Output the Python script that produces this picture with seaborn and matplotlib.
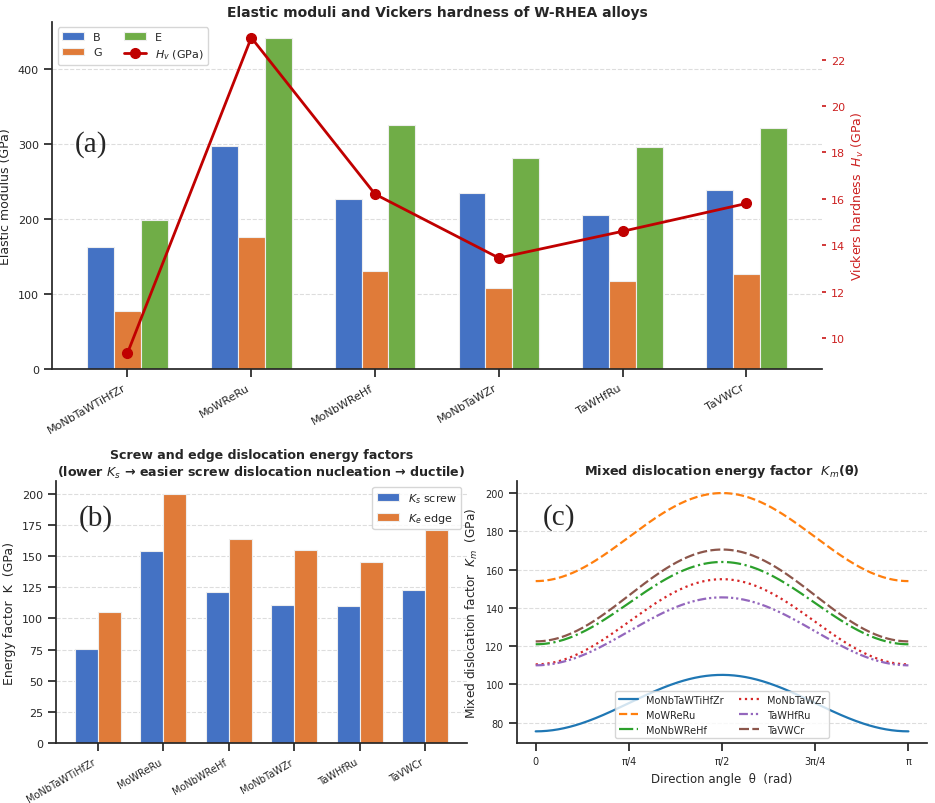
import numpy as np
import pandas as pd
import matplotlib
matplotlib.use("Agg")
import matplotlib.pyplot as plt
import seaborn as sns

# ---------------- data ----------------
alloys = ["MoNbTaWTiHfZr", "MoWReRu", "MoNbWReHf", "MoNbTaWZr", "TaWHfRu", "TaVWCr"]
B_mod = [162, 297, 226, 234, 205, 239]
G_mod = [77, 176, 130, 108, 117, 126]
E_mod = [199, 441, 326, 282, 296, 322]
Hv = [9.35, 22.95, 16.2, 13.45, 14.6, 15.8]
Ks = [75.5, 154, 121, 110.5, 110, 122.5]
Ke = [105, 200, 164, 155, 145.5, 170.5]
theta_ticks = [0, np.pi / 4, np.pi / 2, 3 * np.pi / 4, np.pi]
theta_labels = ["0", "π/4", "π/2", "3π/4", "π"]

# ---------------- style ----------------
sns.set_theme(style="ticks", rc={
    "xtick.labelsize": 8, "ytick.labelsize": 8,
    "axes.labelsize": 9, "legend.fontsize": 8,
    "axes.titlesize": 10,
})
plt.rcParams["font.family"] = ["DejaVu Sans"]

c_blue, c_orange, c_green = "#4472C4", "#E07B39", "#70AD47"
c_red = "#C00000"
grid_kw = dict(linestyle="--", color="#dddddd", linewidth=0.8)

fig = plt.figure(figsize=(9.35, 8.04), dpi=100)

# ---------------- (a) ----------------
ax_a = fig.add_axes([0.0556, 0.540, 0.8235, 0.4316])
df_a = pd.DataFrame({
    "alloy": alloys * 3,
    "modulus": ["B"] * 6 + ["G"] * 6 + ["E"] * 6,
    "value": B_mod + G_mod + E_mod,
})
sns.barplot(data=df_a, x="alloy", y="value", hue="modulus",
            palette=[c_blue, c_orange, c_green], saturation=1,
            width=0.65, edgecolor="#eeeeee", linewidth=0.8,
            errorbar=None, ax=ax_a)
leg = ax_a.get_legend()
bar_handles = list(leg.legend_handles)
bar_labels = [t.get_text() for t in leg.texts]
leg.remove()

ax_a.set_xlabel("")
ax_a.set_ylabel("Elastic modulus (GPa)")
ax_a.yaxis.grid(True, **grid_kw)
ax_a.set_axisbelow(True)
sns.despine(ax=ax_a)
ax_a.tick_params(axis="x", rotation=30)
for lbl in ax_a.get_xticklabels():
    lbl.set_ha("right")
ax_a.text(0.03, 0.65, "(a)", transform=ax_a.transAxes, fontsize=21,
          family="Liberation Serif", va="center")
ax_a.set_title("Elastic moduli and Vickers hardness of W-RHEA alloys",
               fontweight="bold", pad=4)

ax2 = ax_a.twinx()
line, = ax2.plot(range(len(alloys)), Hv, color=c_red, marker="o", lw=2,
                 ms=7, label="$H_v$ (GPa)")
for s in ax2.spines.values():
    s.set_visible(False)
ax2.tick_params(axis="y", colors="#cc2020", labelsize=8, length=3)
ax2.set_ylabel("Vickers hardness  $H_v$ (GPa)", color="#cc2020", labelpad=3)
ax2.legend(bar_handles + [line], bar_labels + ["$H_v$ (GPa)"],
           loc="upper left", ncol=2, fontsize=8)
ax_a.set_xlim(-0.61, 5.61)

# ---------------- (b) ----------------
ax_b = fig.add_axes([0.0599, 0.0743, 0.4396, 0.326])
df_b = pd.DataFrame({
    "alloy": alloys * 2,
    "kind": ["$K_s$ screw"] * 6 + ["$K_e$ edge"] * 6,
    "value": Ks + Ke,
})
sns.barplot(data=df_b, x="alloy", y="value", hue="kind",
            palette=[c_blue, c_orange], saturation=1, width=0.7,
            edgecolor="#eeeeee", linewidth=0.8, errorbar=None, ax=ax_b)
ax_b.legend(loc="upper right", fontsize=8)
ax_b.set_xlabel("")
ax_b.set_ylabel("Energy factor  K  (GPa)")
ax_b.yaxis.grid(True, **grid_kw)
ax_b.set_axisbelow(True)
sns.despine(ax=ax_b)
ax_b.tick_params(axis="x", rotation=30, labelsize=7)
for lbl in ax_b.get_xticklabels():
    lbl.set_ha("right")
ax_b.set_xlim(-0.635, 5.635)
ax_b.text(0.056, 0.86, "(b)", transform=ax_b.transAxes, fontsize=21,
          family="Liberation Serif", va="center")
ax_b.set_title("Screw and edge dislocation energy factors\n"
               "(lower $K_s$ → easier screw dislocation nucleation → ductile)",
               fontweight="bold", fontsize=9.1, pad=4)

# ---------------- (c) ----------------
ax_c = fig.add_axes([0.553, 0.0743, 0.4385, 0.326])
theta = np.linspace(0, np.pi, 200)
rows = []
for name, ks, ke in zip(alloys, Ks, Ke):
    km = ks * np.cos(theta) ** 2 + ke * np.sin(theta) ** 2
    rows.append(pd.DataFrame({"theta": theta, "Km": km, "alloy": name}))
df_c = pd.concat(rows, ignore_index=True)
pal_c = dict(zip(alloys, sns.color_palette("tab10", 6)))
dashes_c = {
    "MoNbTaWTiHfZr": "",
    "MoWReRu": (3.7, 1.6),
    "MoNbWReHf": (6.4, 1.6, 1, 1.6),
    "MoNbTaWZr": (1, 1.65),
    "TaWHfRu": (4, 1.3, 1, 1.3, 1, 1.3),
    "TaVWCr": (4.5, 1.5),
}
sns.lineplot(data=df_c, x="theta", y="Km", hue="alloy", style="alloy",
             palette=pal_c, dashes=dashes_c, hue_order=alloys,
             style_order=alloys, linewidth=1.6, ax=ax_c)
ax_c.legend(loc="lower center", ncol=2, fontsize=7, columnspacing=1.6)
ax_c.set_xticks(theta_ticks)
ax_c.set_xticklabels(theta_labels)
ax_c.tick_params(labelsize=7)
ax_c.set_xlabel("Direction angle  θ  (rad)", fontsize=8.5)
ax_c.set_ylabel("Mixed dislocation factor  $K_m$  (GPa)", fontsize=8.7)
ax_c.yaxis.grid(True, **grid_kw)
ax_c.set_axisbelow(True)
sns.despine(ax=ax_c)
ax_c.text(0.063, 0.865, "(c)", transform=ax_c.transAxes, fontsize=21,
          family="Liberation Serif", va="center")
ax_c.set_title("Mixed dislocation energy factor  $K_m$(θ)",
               fontweight="bold", fontsize=9.2, pad=5)

fig.savefig("out.png", dpi=100)
